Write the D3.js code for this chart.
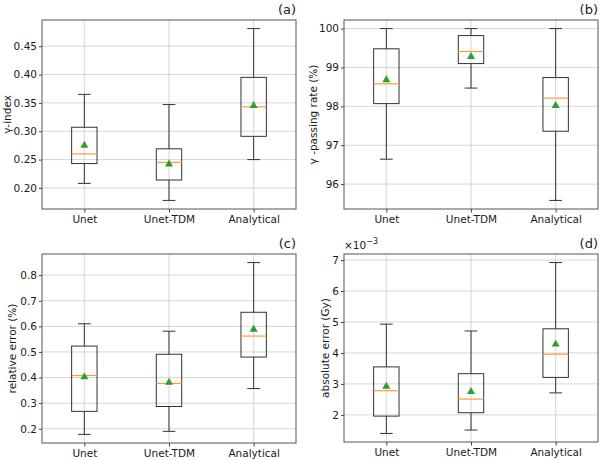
<!DOCTYPE html>
<html>
<head>
<meta charset="utf-8">
<script src="https://cdn.jsdelivr.net/npm/d3@7"></script>
<style>
  body { margin: 0; background: #fff; }
  text { font-family: "DejaVu Sans", sans-serif; fill: #1a1a1a; }
</style>
</head>
<body>
<div id="chart"></div>
<script>
const categories = ["Unet", "Unet-TDM", "Analytical"];

// [whiskerLow, q1, median, q3, whiskerHigh, mean]
const gammaIndex = [
  [0.208, 0.243, 0.260, 0.307, 0.365, 0.275],
  [0.178, 0.214, 0.245, 0.269, 0.347, 0.242],
  [0.250, 0.291, 0.343, 0.395, 0.481, 0.345]
];
const gammaPassing = [
  [96.64, 98.07, 98.58, 99.48, 100, 98.68],
  [98.47, 99.10, 99.41, 99.82, 100, 99.28],
  [95.58, 97.36, 98.21, 98.74, 100, 98.02]
];
const relativeError = [
  [0.178, 0.268, 0.408, 0.523, 0.610, 0.402],
  [0.190, 0.287, 0.377, 0.491, 0.581, 0.381],
  [0.357, 0.480, 0.562, 0.655, 0.849, 0.588]
];
// in units of 1e-3 Gy
const absoluteError = [
  [1.40, 1.96, 2.78, 3.55, 4.93, 2.92],
  [1.51, 2.07, 2.51, 3.33, 4.71, 2.75],
  [2.71, 3.21, 3.96, 4.78, 6.92, 4.28]
];

const ticksA = [0.20, 0.25, 0.30, 0.35, 0.40, 0.45];
const ticksB = [96, 97, 98, 99, 100];
const ticksC = [0.2, 0.3, 0.4, 0.5, 0.6, 0.7, 0.8];
const ticksD = [2, 3, 4, 5, 6, 7];

const svg = d3.select("#chart").append("svg")
  .attr("width", 600).attr("height", 460);

function Panel({
  data, ticks, fmt, ylabel, tag, left, top, labelOffset,
  width = 254, height = 189, exponent = null
}) {
  const g = svg.append("g").attr("transform", `translate(${left},${top})`);
  const lo = d3.min(data, d => d[0]), hi = d3.max(data, d => d[4]);
  const pad = (hi - lo) * 0.05;
  const y = d3.scaleLinear().domain([lo - pad, hi + pad]).range([height, 0]);
  const x = d3.scalePoint().domain(categories).range([0, width]).padding(0.5);
  const boxW = width / 3 * 0.3;

  // grid
  g.selectAll(".gy").data(ticks).enter().append("line")
    .attr("x1", 0).attr("x2", width)
    .attr("y1", d => y(d)).attr("y2", d => y(d))
    .attr("stroke", "#cbcbcb").attr("stroke-width", 0.8);
  g.selectAll(".gx").data(categories).enter().append("line")
    .attr("x1", d => x(d)).attr("x2", d => x(d))
    .attr("y1", 0).attr("y2", height)
    .attr("stroke", "#cbcbcb").attr("stroke-width", 0.8);

  // axes
  const yAxis = g.append("g")
    .call(d3.axisLeft(y).tickValues(ticks).tickFormat(fmt).tickSize(3).tickPadding(2));
  const xAxis = g.append("g").attr("transform", `translate(0,${height})`)
    .call(d3.axisBottom(x).tickSize(3.5).tickPadding(3));
  [yAxis, xAxis].forEach(a => {
    a.select(".domain").remove();
    a.selectAll(".tick line").attr("stroke", "#444");
    a.selectAll(".tick text").style("font-size", "10.5px").attr("fill", "#1a1a1a")
      .style("font-family", "'DejaVu Sans', sans-serif");
  });

  const boxes = g.selectAll(".box").data(data).enter().append("g")
    .attr("transform", (d, i) => `translate(${x(categories[i])},0)`);

  boxes.append("line").attr("x1", 0).attr("x2", 0)
    .attr("y1", d => y(d[0])).attr("y2", d => y(d[1])).attr("stroke", "#333");
  boxes.append("line").attr("x1", 0).attr("x2", 0)
    .attr("y1", d => y(d[3])).attr("y2", d => y(d[4])).attr("stroke", "#333");
  boxes.append("line").attr("x1", -boxW / 4).attr("x2", boxW / 4)
    .attr("y1", d => y(d[0])).attr("y2", d => y(d[0])).attr("stroke", "#333");
  boxes.append("line").attr("x1", -boxW / 4).attr("x2", boxW / 4)
    .attr("y1", d => y(d[4])).attr("y2", d => y(d[4])).attr("stroke", "#333");
  boxes.append("rect")
    .attr("x", -boxW / 2).attr("width", boxW)
    .attr("y", d => y(d[3])).attr("height", d => y(d[1]) - y(d[3]))
    .attr("fill", "none").attr("stroke", "#333");
  boxes.append("line").attr("x1", -boxW / 2).attr("x2", boxW / 2)
    .attr("y1", d => y(d[2])).attr("y2", d => y(d[2]))
    .attr("stroke", "#ff9a3a").attr("stroke-width", 1.2);
  boxes.append("path")
    .attr("d", d3.symbol().type(d3.symbolTriangle).size(28))
    .attr("transform", d => `translate(0,${y(d[5])})`)
    .attr("fill", "#2ca02c");

  // frame
  g.append("rect").attr("width", width).attr("height", height)
    .attr("fill", "none").attr("stroke", "#555").attr("stroke-width", 1);

  g.append("text")
    .attr("transform", `translate(${labelOffset},${height / 2}) rotate(-90)`)
    .attr("text-anchor", "middle")
    .style("font-size", "10.5px")
    .text(ylabel);

  g.append("text").attr("x", width).attr("y", -6)
    .attr("text-anchor", "end").style("font-size", "13px").text(tag);

  if (exponent) {
    const t = g.append("text").attr("x", 0).attr("y", -5).style("font-size", "10.5px");
    t.append("tspan").text("×10");
    t.append("tspan").attr("dy", -5).style("font-size", "8px").text(exponent);
  }
}

Panel({ data: gammaIndex, ticks: ticksA, fmt: d3.format(".2f"), ylabel: "γ-index", tag: "(a)", left: 42, top: 20, labelOffset: -31 });
Panel({ data: gammaPassing, ticks: ticksB, fmt: d3.format("d"), ylabel: "γ -passing rate (%)", tag: "(b)", left: 344, top: 20, labelOffset: -27 });
Panel({ data: relativeError, ticks: ticksC, fmt: d3.format(".1f"), ylabel: "relative error (%)", tag: "(c)", left: 42, top: 254, labelOffset: -26 });
Panel({ data: absoluteError, ticks: ticksD, fmt: d3.format("d"), ylabel: "absolute error (Gy)", tag: "(d)", left: 344, top: 254, labelOffset: -15, height: 188, exponent: "−3" });
</script>
</body>
</html>
